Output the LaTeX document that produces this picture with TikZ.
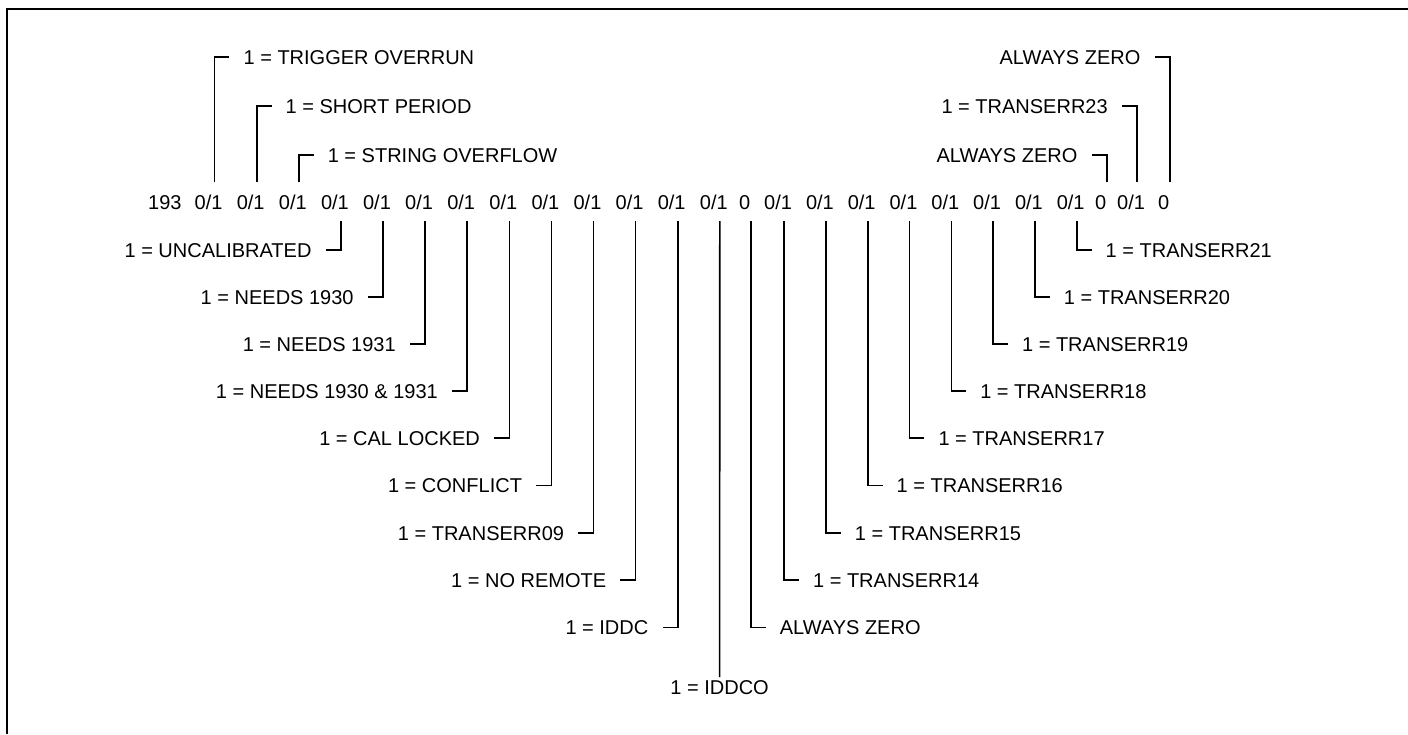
\documentclass[tikz,border=0pt]{standalone}
\usepackage{fontspec}
\setmainfont{Liberation Sans}
\begin{document}
\begin{tikzpicture}[x=1pt,y=-1pt,
  font=\fontsize{20}{24}\selectfont,
  tok/.style={anchor=base west, inner xsep=0pt, inner ysep=12pt, text height=14.5pt, text depth=0pt},
  lbl/.style={inner xsep=14pt, inner ysep=2pt, text height=14.5pt, text depth=0pt},
  lead/.style={line width=1.6pt, black},
  frame/.style={line width=2pt, black}]
\useasboundingbox (0,0) rectangle (1408,734);
% frame
\draw[frame] (6.5,734) -- (6.5,8.5) -- (1408,8.5);
% row of bits
\node[tok] (t0)  at (148,209)    {193};
\node[tok] (t1)  at (194.5,209)  {0/1};
\node[tok] (t2)  at (236.6,209)  {0/1};
\node[tok] (t3)  at (278.7,209)  {0/1};
\node[tok] (t4)  at (320.8,209)  {0/1};
\node[tok] (t5)  at (362.9,209)  {0/1};
\node[tok] (t6)  at (405.0,209)  {0/1};
\node[tok] (t7)  at (447.1,209)  {0/1};
\node[tok] (t8)  at (489.2,209)  {0/1};
\node[tok] (t9)  at (531.3,209)  {0/1};
\node[tok] (t10) at (573.4,209)  {0/1};
\node[tok] (t11) at (615.5,209)  {0/1};
\node[tok] (t12) at (657.6,209)  {0/1};
\node[tok] (t13) at (699.7,209)  {0/1};
\node[tok] (t14) at (739,209)    {0};
\node[tok] (t15) at (764,209)    {0/1};
\node[tok] (t16) at (805.8,209)  {0/1};
\node[tok] (t17) at (847.6,209)  {0/1};
\node[tok] (t18) at (889.4,209)  {0/1};
\node[tok] (t19) at (931.2,209)  {0/1};
\node[tok] (t20) at (973,209)    {0/1};
\node[tok] (t21) at (1014.8,209) {0/1};
\node[tok] (t22) at (1056.6,209) {0/1};
\node[tok] (t23) at (1095,209)   {0};
\node[tok] (t24) at (1117,209)   {0/1};
\node[tok] (t25) at (1158,209)   {0};
% top labels
\node[lbl,anchor=west] (l1)  at (229.4,57)   {1 = TRIGGER OVERRUN};
\node[lbl,anchor=west] (l2)  at (271.5,106)  {1 = SHORT PERIOD};
\node[lbl,anchor=west] (l3)  at (313.6,155)  {1 = STRING OVERFLOW};
\node[lbl,anchor=east] (l23) at (1091.6,155) {ALWAYS ZERO};
\node[lbl,anchor=east] (l24) at (1121.9,106) {1 = TRANSERR23};
\node[lbl,anchor=east] (l25) at (1154.6,57)  {ALWAYS ZERO};
% lower left labels
\node[lbl,anchor=east] (l4)  at (325.7,250)   {1 = UNCALIBRATED};
\node[lbl,anchor=east] (l5)  at (367.8,297)   {1 = NEEDS 1930};
\node[lbl,anchor=east] (l6)  at (409.9,344)   {1 = NEEDS 1931};
\node[lbl,anchor=east] (l7)  at (452.0,391)   {1 = NEEDS 1930 \& 1931};
\node[lbl,anchor=east] (l8)  at (494.1,438)   {1 = CAL LOCKED};
\node[lbl,anchor=east] (l9)  at (536.2,485.5) {1 = CONFLICT};
\node[lbl,anchor=east] (l10) at (578.3,533)   {1 = TRANSERR09};
\node[lbl,anchor=east] (l11) at (620.4,580)   {1 = NO REMOTE};
\node[lbl,anchor=east] (l12) at (662.5,627.5) {1 = IDDC};
\node[lbl,anchor=north,inner ysep=3pt] (l13) at (719.6,677) {1 = IDDCO};
% lower right labels
\node[lbl,anchor=west] (l14) at (765.6,627.5)  {ALWAYS ZERO};
\node[lbl,anchor=west] (l15) at (798.9,580)    {1 = TRANSERR14};
\node[lbl,anchor=west] (l16) at (840.7,533)    {1 = TRANSERR15};
\node[lbl,anchor=west] (l17) at (882.5,485.5)  {1 = TRANSERR16};
\node[lbl,anchor=west] (l18) at (924.3,438)    {1 = TRANSERR17};
\node[lbl,anchor=west] (l19) at (966.1,391)    {1 = TRANSERR18};
\node[lbl,anchor=west] (l20) at (1007.9,344)   {1 = TRANSERR19};
\node[lbl,anchor=west] (l21) at (1049.7,297)   {1 = TRANSERR20};
\node[lbl,anchor=west] (l22) at (1091.5,250)   {1 = TRANSERR21};
% leaders
\foreach \i in {1,2,3} \draw[lead] ([xshift=6pt]t\i.north) |- (l\i.west);
\foreach \i in {23,24,25} \draw[lead] ([xshift=6pt]t\i.north) |- (l\i.east);
\foreach \i in {4,...,12} \draw[lead] ([xshift=6pt]t\i.south) |- (l\i.east);
\draw[lead] ([xshift=6pt]t13.south) -- (l13.north);
\foreach \i in {14,...,22} \draw[lead] ([xshift=6pt]t\i.south) |- (l\i.west);
\end{tikzpicture}
\end{document}
